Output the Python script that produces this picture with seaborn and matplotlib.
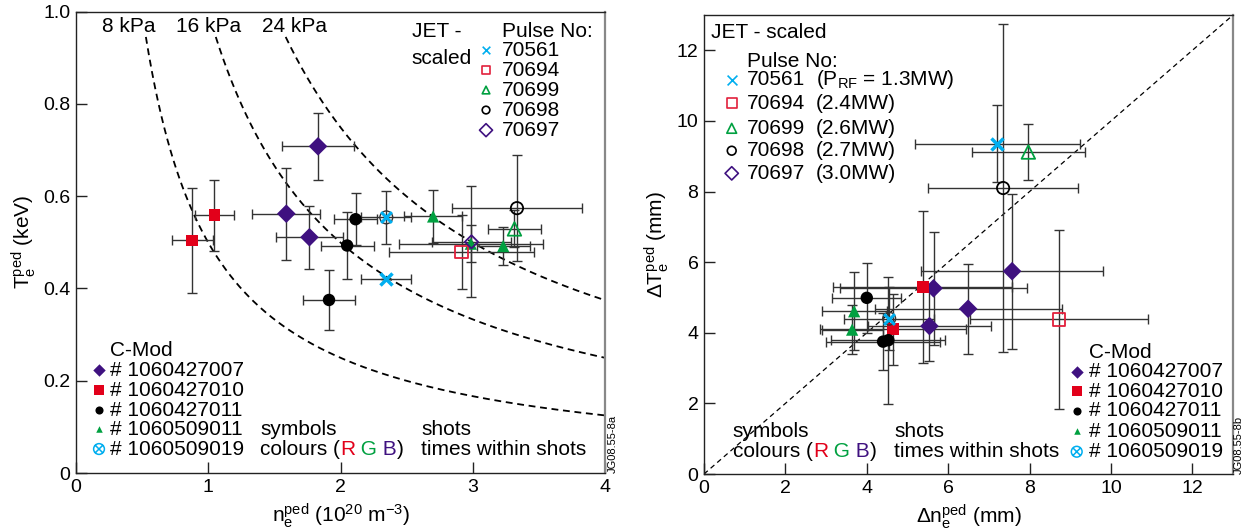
import numpy as np
import pandas as pd
import matplotlib
matplotlib.use('Agg')
import matplotlib.pyplot as plt
from matplotlib.path import Path
import seaborn as sns

# ---------------- data ----------------
cmod_shots = ['1060427007', '1060427010', '1060427011', '1060509011', '1060509019']
cmod_colors = ['#3f1180', '#e2001a', '#000000', '#00a040', '#00aeef']
cmod_markers = ['D', 's', 'o', '^', 'otimes']

jet_pulses = ['70561', '70694', '70699', '70698', '70697']
jet_power = ['(P$_\\mathrm{RF}$ = 1.3MW)', '(2.4MW)', '(2.6MW)', '(2.7MW)', '(3.0MW)']
jet_colors = ['#00aeef', '#e2203c', '#00a040', '#000000', '#3f1180']
jet_markers = ['x', 's', '^', 'o', 'D']

# left panel: pedestal density vs temperature (C-Mod)
left_shot = ['1060427007'] * 3 + ['1060427010'] * 2 + ['1060427011'] * 3 + ['1060509011'] * 3 + ['1060509019']
left_ne = [1.83, 1.59, 1.765, 0.88, 1.047, 2.114, 2.05, 1.913, 2.70, 2.985, 3.23, 2.346]
left_te = [0.708, 0.562, 0.511, 0.504, 0.559, 0.550, 0.493, 0.375, 0.556, 0.497, 0.492, 0.554]
left_ne_err = [0.27, 0.256, 0.25, 0.155, 0.145, 0.16, 0.2, 0.2, 0.22, 0.545, 0.2, 0.19]
left_te_err = [0.073, 0.10, 0.068, 0.113, 0.077, 0.056, 0.073, 0.064, 0.058, 0.04, 0.042, 0.057]

# left panel: JET scaled
left_jet = ['70561', '70694', '70699', '70698', '70697']
left_jet_ne = [2.346, 2.915, 3.315, 3.334, 2.99]
left_jet_te = [0.420, 0.479, 0.529, 0.574, 0.501]
left_jet_ne_err = [0.19, 0.55, 0.2, 0.49, 0.3]
left_jet_te_err = [0.0, 0.08, 0.04, 0.115, 0.12]

# isobars (kPa), p = 2 n T e
iso_p = [8, 16, 24]
iso_labels = ['8 kPa', '16 kPa', '24 kPa']

# right panel: pedestal widths (C-Mod)
right_shot = ['1060427007'] * 4 + ['1060427010'] * 2 + ['1060427011'] * 3 + ['1060509011'] * 2 + ['1060509019']
right_dne = [7.57, 5.64, 6.49, 5.54, 5.38, 4.64, 4.00, 4.40, 4.53, 3.69, 3.64, 4.55]
right_dte = [5.745, 5.26, 4.68, 4.19, 5.30, 4.10, 4.99, 3.75, 3.79, 4.61, 4.09, 4.40]
right_dne_err = [2.24, 2.3, 2.3, 1.5, 2.2, 1.8, 0.85, 1.4, 1.4, 0.8, 0.75, 1.1]
right_dte_err = [2.2, 1.6, 1.27, 1.0, 2.15, 1.0, 1.0, 0.8, 1.8, 1.1, 0.7, 0.9]

# right panel: JET scaled
right_jet = ['70561', '70694', '70699', '70698']
right_jet_dne = [7.21, 8.72, 7.97, 7.35]
right_jet_dte = [9.36, 4.38, 9.12, 8.10]
right_jet_dne_err = [2.03, 2.18, 1.39, 1.84]
right_jet_dte_err = [1.1, 2.53, 0.8, 4.65]

# ---------------- style ----------------
sns.set_style('ticks')
plt.rcParams['font.family'] = ['Liberation Sans', 'DejaVu Sans']
plt.rcParams['mathtext.fontset'] = 'custom'
plt.rcParams['mathtext.rm'] = 'Liberation Sans'
plt.rcParams['mathtext.it'] = 'Liberation Sans:italic'
plt.rcParams['mathtext.bf'] = 'Liberation Sans:bold'
plt.rcParams['text.color'] = 'black'
plt.rcParams['axes.labelcolor'] = 'black'
plt.rcParams['axes.edgecolor'] = '#222222'
plt.rcParams['axes.linewidth'] = 1.0
for a in ['xtick', 'ytick']:
    plt.rcParams[a + '.direction'] = 'in'
    plt.rcParams[a + '.major.size'] = 8
    plt.rcParams[a + '.major.width'] = 1.0
    plt.rcParams[a + '.color'] = '#222222'
    plt.rcParams[a + '.labelcolor'] = 'black'
    plt.rcParams[a + '.labelsize'] = 14
    plt.rcParams[a + '.major.pad'] = 4

FS = 15
otimes = Path.make_compound_path(
    Path.unit_circle(),
    Path([(-0.7, -0.7), (0.7, 0.7), (-0.7, 0.7), (0.7, -0.7)],
         [Path.MOVETO, Path.LINETO, Path.MOVETO, Path.LINETO]))

pal = dict(zip(cmod_shots, cmod_colors))
mk = dict(zip(cmod_shots[:4], cmod_markers[:4]))
sz = {'1060427007': 90, '1060427010': 72, '1060427011': 80, '1060509011': 78}
jet_col = dict(zip(jet_pulses, jet_colors))
jet_mk = dict(zip(jet_pulses, jet_markers))
jet_sz = {'70561': 75, '70694': 80, '70699': 95, '70698': 78, '70697': 45}

fig = plt.figure(figsize=(12.54, 5.31), dpi=100)
axL = fig.add_axes([0.0606, 0.1092, 0.4219, 0.869])
axR = fig.add_axes([0.5614, 0.1073, 0.4219, 0.8644])


def draw_points(ax, shot, x, y, xe, ye, jshot, jx, jy, jxe, jye):
    ax.errorbar(x, y, xerr=xe, yerr=ye, fmt='none', ecolor='#333333',
                elinewidth=1.0, capsize=3.5, capthick=1.0, zorder=2)
    ax.errorbar(jx, jy, xerr=jxe, yerr=jye, fmt='none', ecolor='#333333',
                elinewidth=1.0, capsize=3.5, capthick=1.0, zorder=2)
    df = pd.DataFrame({'shot': shot, 'x': x, 'y': y})
    filled = df[df['shot'] != '1060509019']
    sns.scatterplot(data=filled, x='x', y='y', hue='shot', style='shot', size='shot',
                    palette=pal, markers=mk, sizes=sz, linewidth=0, legend=False,
                    zorder=4, ax=ax)
    ox = df[df['shot'] == '1060509019']
    ax.scatter(ox['x'], ox['y'], marker='o', s=85, facecolors='none',
               edgecolors='#333333', linewidths=1.0, zorder=5)
    ax.scatter(ox['x'], ox['y'], marker='x', s=60, color=pal['1060509019'],
               linewidths=2.2, zorder=6)
    for p, xx, yy in zip(jshot, jx, jy):
        if jet_mk[p] == 'x':
            ax.scatter(xx, yy, marker='x', s=jet_sz[p], color=jet_col[p],
                       linewidths=2.5, zorder=6)
        else:
            ax.scatter(xx, yy, marker=jet_mk[p], s=jet_sz[p], facecolors='none',
                       edgecolors=jet_col[p], linewidths=1.3, zorder=5)


def key(ax, x, y, marker, color, size, filled=True, lw=1.2):
    kw = dict(transform=ax.transAxes, clip_on=False, zorder=6)
    if marker == 'otimes':
        ax.scatter(x, y, marker=otimes, s=size, facecolors='none',
                   edgecolors=color, linewidths=1.1, **kw)
    elif marker == 'x':
        ax.scatter(x, y, marker='x', s=size, color=color, linewidths=lw, **kw)
    elif filled:
        ax.scatter(x, y, marker=marker, s=size, color=color, linewidths=0, **kw)
    else:
        ax.scatter(x, y, marker=marker, s=size, facecolors='none',
                   edgecolors=color, linewidths=lw, **kw)


def colour_text(ax, x, y, parts, colors):
    t = ax.text(x, y, parts[0], color=colors[0], fontsize=FS, va='center',
                transform=ax.transAxes)
    for s, c in zip(parts[1:], colors[1:]):
        t = ax.annotate(s, xycoords=t, xy=(1, 0), va='bottom', color=c, fontsize=FS)


cmod_key_sizes = [40, 48, 34, 22, 60]
rows = [0.2232, 0.1798, 0.1365, 0.0947, 0.052]


def cmod_legend(ax, xm, xt, rows, yhead):
    ax.text(xt, yhead, 'C-Mod', fontsize=FS, va='center', transform=ax.transAxes)
    for s, c, m, k, yy in zip(cmod_shots, cmod_colors, cmod_markers, cmod_key_sizes, rows):
        key(ax, xm, yy, m, c, k)
        ax.text(xt, yy, '# ' + s, fontsize=FS, va='center', transform=ax.transAxes)


def notes(ax, xs, xsh, rows):
    ax.text(xs, rows[3], 'symbols', fontsize=FS, va='center', transform=ax.transAxes)
    colour_text(ax, xs, rows[4], ['colours (', 'R', ' G', ' B', ')'],
                ['black', '#e2001a', '#00a040', '#3f1180', 'black'])
    ax.text(xsh, rows[3], 'shots', fontsize=FS, va='center', transform=ax.transAxes)
    ax.text(xsh, rows[4], 'times within shots', fontsize=FS, va='center',
            transform=ax.transAxes)


# ---------------- left panel ----------------
iso_rows = []
for p in iso_p:
    n = np.linspace(p / (16.02 * 0.945), 4.0, 300)
    iso_rows.append(pd.DataFrame({'p': p, 'ne': n, 'Te': p / (16.02 * n)}))
iso = pd.concat(iso_rows, ignore_index=True)
sns.lineplot(data=iso, x='ne', y='Te', units='p', estimator=None, sort=False,
             color='black', linewidth=1.3, linestyle=(0, (3.8, 2.6)),
             legend=False, ax=axL)
for lab, xl in zip(iso_labels, [0.0998, 0.2514, 0.4128]):
    axL.text(xl, 0.9686, lab, fontsize=FS, ha='center', va='center',
             transform=axL.transAxes)

draw_points(axL, left_shot, left_ne, left_te, left_ne_err, left_te_err,
            left_jet, left_jet_ne, left_jet_te, left_jet_ne_err, left_jet_te_err)

axL.set_xlim(0, 4)
axL.set_ylim(0, 1.0)
axL.set_xticks([0, 1, 2, 3, 4])
axL.set_yticks([0, 0.2, 0.4, 0.6, 0.8, 1.0])
axL.set_yticklabels(['0', '0.2', '0.4', '0.6', '0.8', '1.0'])
axL.set_xlabel('n$_\\mathrm{e}^\\mathrm{ped}$ (10$^{20}$ m$^{-3}$)', fontsize=FS)
axL.set_ylabel('T$_\\mathrm{e}^\\mathrm{ped}$ (keV)', fontsize=FS)

# JET legend (left)
axL.text(0.6346, 0.956, 'JET -', fontsize=FS, va='center', transform=axL.transAxes)
axL.text(0.6346, 0.8986, 'scaled', fontsize=FS, va='center', transform=axL.transAxes)
axL.text(0.8047, 0.956, 'Pulse No:', fontsize=FS, va='center', transform=axL.transAxes)
for p, c, m, k, yy in zip(jet_pulses, jet_colors, jet_markers,
                          [30, 40, 30, 30, 44], [0.9166, 0.8733, 0.830, 0.7866, 0.743]):
    key(axL, 0.775, yy, m, c, k, filled=False)
    axL.text(0.8047, yy, p, fontsize=FS, va='center', transform=axL.transAxes)

cmod_legend(axL, 0.0435, 0.0643, rows, 0.2665)
notes(axL, 0.348, 0.653, rows)

# ---------------- right panel ----------------
axR.axline((0, 0), slope=1, color='black', linewidth=0.9, linestyle=(0, (4, 3)), zorder=1)
draw_points(axR, right_shot, right_dne, right_dte, right_dne_err, right_dte_err,
            right_jet, right_jet_dne, right_jet_dte, right_jet_dne_err, right_jet_dte_err)

axR.set_xlim(0, 13)
axR.set_ylim(0, 13)
axR.set_xticks([0, 2, 4, 6, 8, 10, 12])
axR.set_yticks([0, 2, 4, 6, 8, 10, 12])
axR.set_xlabel('Δn$_\\mathrm{e}^\\mathrm{ped}$ (mm)', fontsize=FS)
axR.set_ylabel('ΔT$_\\mathrm{e}^\\mathrm{ped}$ (mm)', fontsize=FS)

axR.text(0.0132, 0.962, 'JET - scaled', fontsize=FS, va='center', transform=axR.transAxes)
axR.text(0.0807, 0.8998, 'Pulse No:', fontsize=FS, va='center', transform=axR.transAxes)
for p, pw, c, m, k, yy in zip(jet_pulses, jet_power, jet_colors, jet_markers,
                              [50, 52, 50, 40, 46],
                              [0.8588, 0.8083, 0.7532, 0.7044, 0.6551]):
    key(axR, 0.0524, yy, m, c, k, filled=False)
    axR.text(0.0807, yy, p, fontsize=FS, va='center', transform=axR.transAxes)
    axR.text(0.2117, yy, pw, fontsize=FS, va='center', transform=axR.transAxes)

cmod_legend(axR, 0.7045, 0.7284, [0.2229, 0.1808, 0.1379, 0.0937, 0.0486], 0.2651)
notes(axR, 0.0545, 0.360, [0.2229, 0.1808, 0.1379, 0.0937, 0.0486])

for ax in (axL, axR):
    ax.spines['right'].set_color('#888888')
    ax.spines['right'].set_linewidth(1.6)
    ax.tick_params(top=False, right=False)

fig.text(0.489, 0.109, 'JG08.55-8a', fontsize=8, rotation=90, ha='center', va='bottom')
fig.text(0.988, 0.107, 'JG08.55-8b', fontsize=8, rotation=90, ha='center', va='bottom')

fig.savefig('out.png', dpi=100)
